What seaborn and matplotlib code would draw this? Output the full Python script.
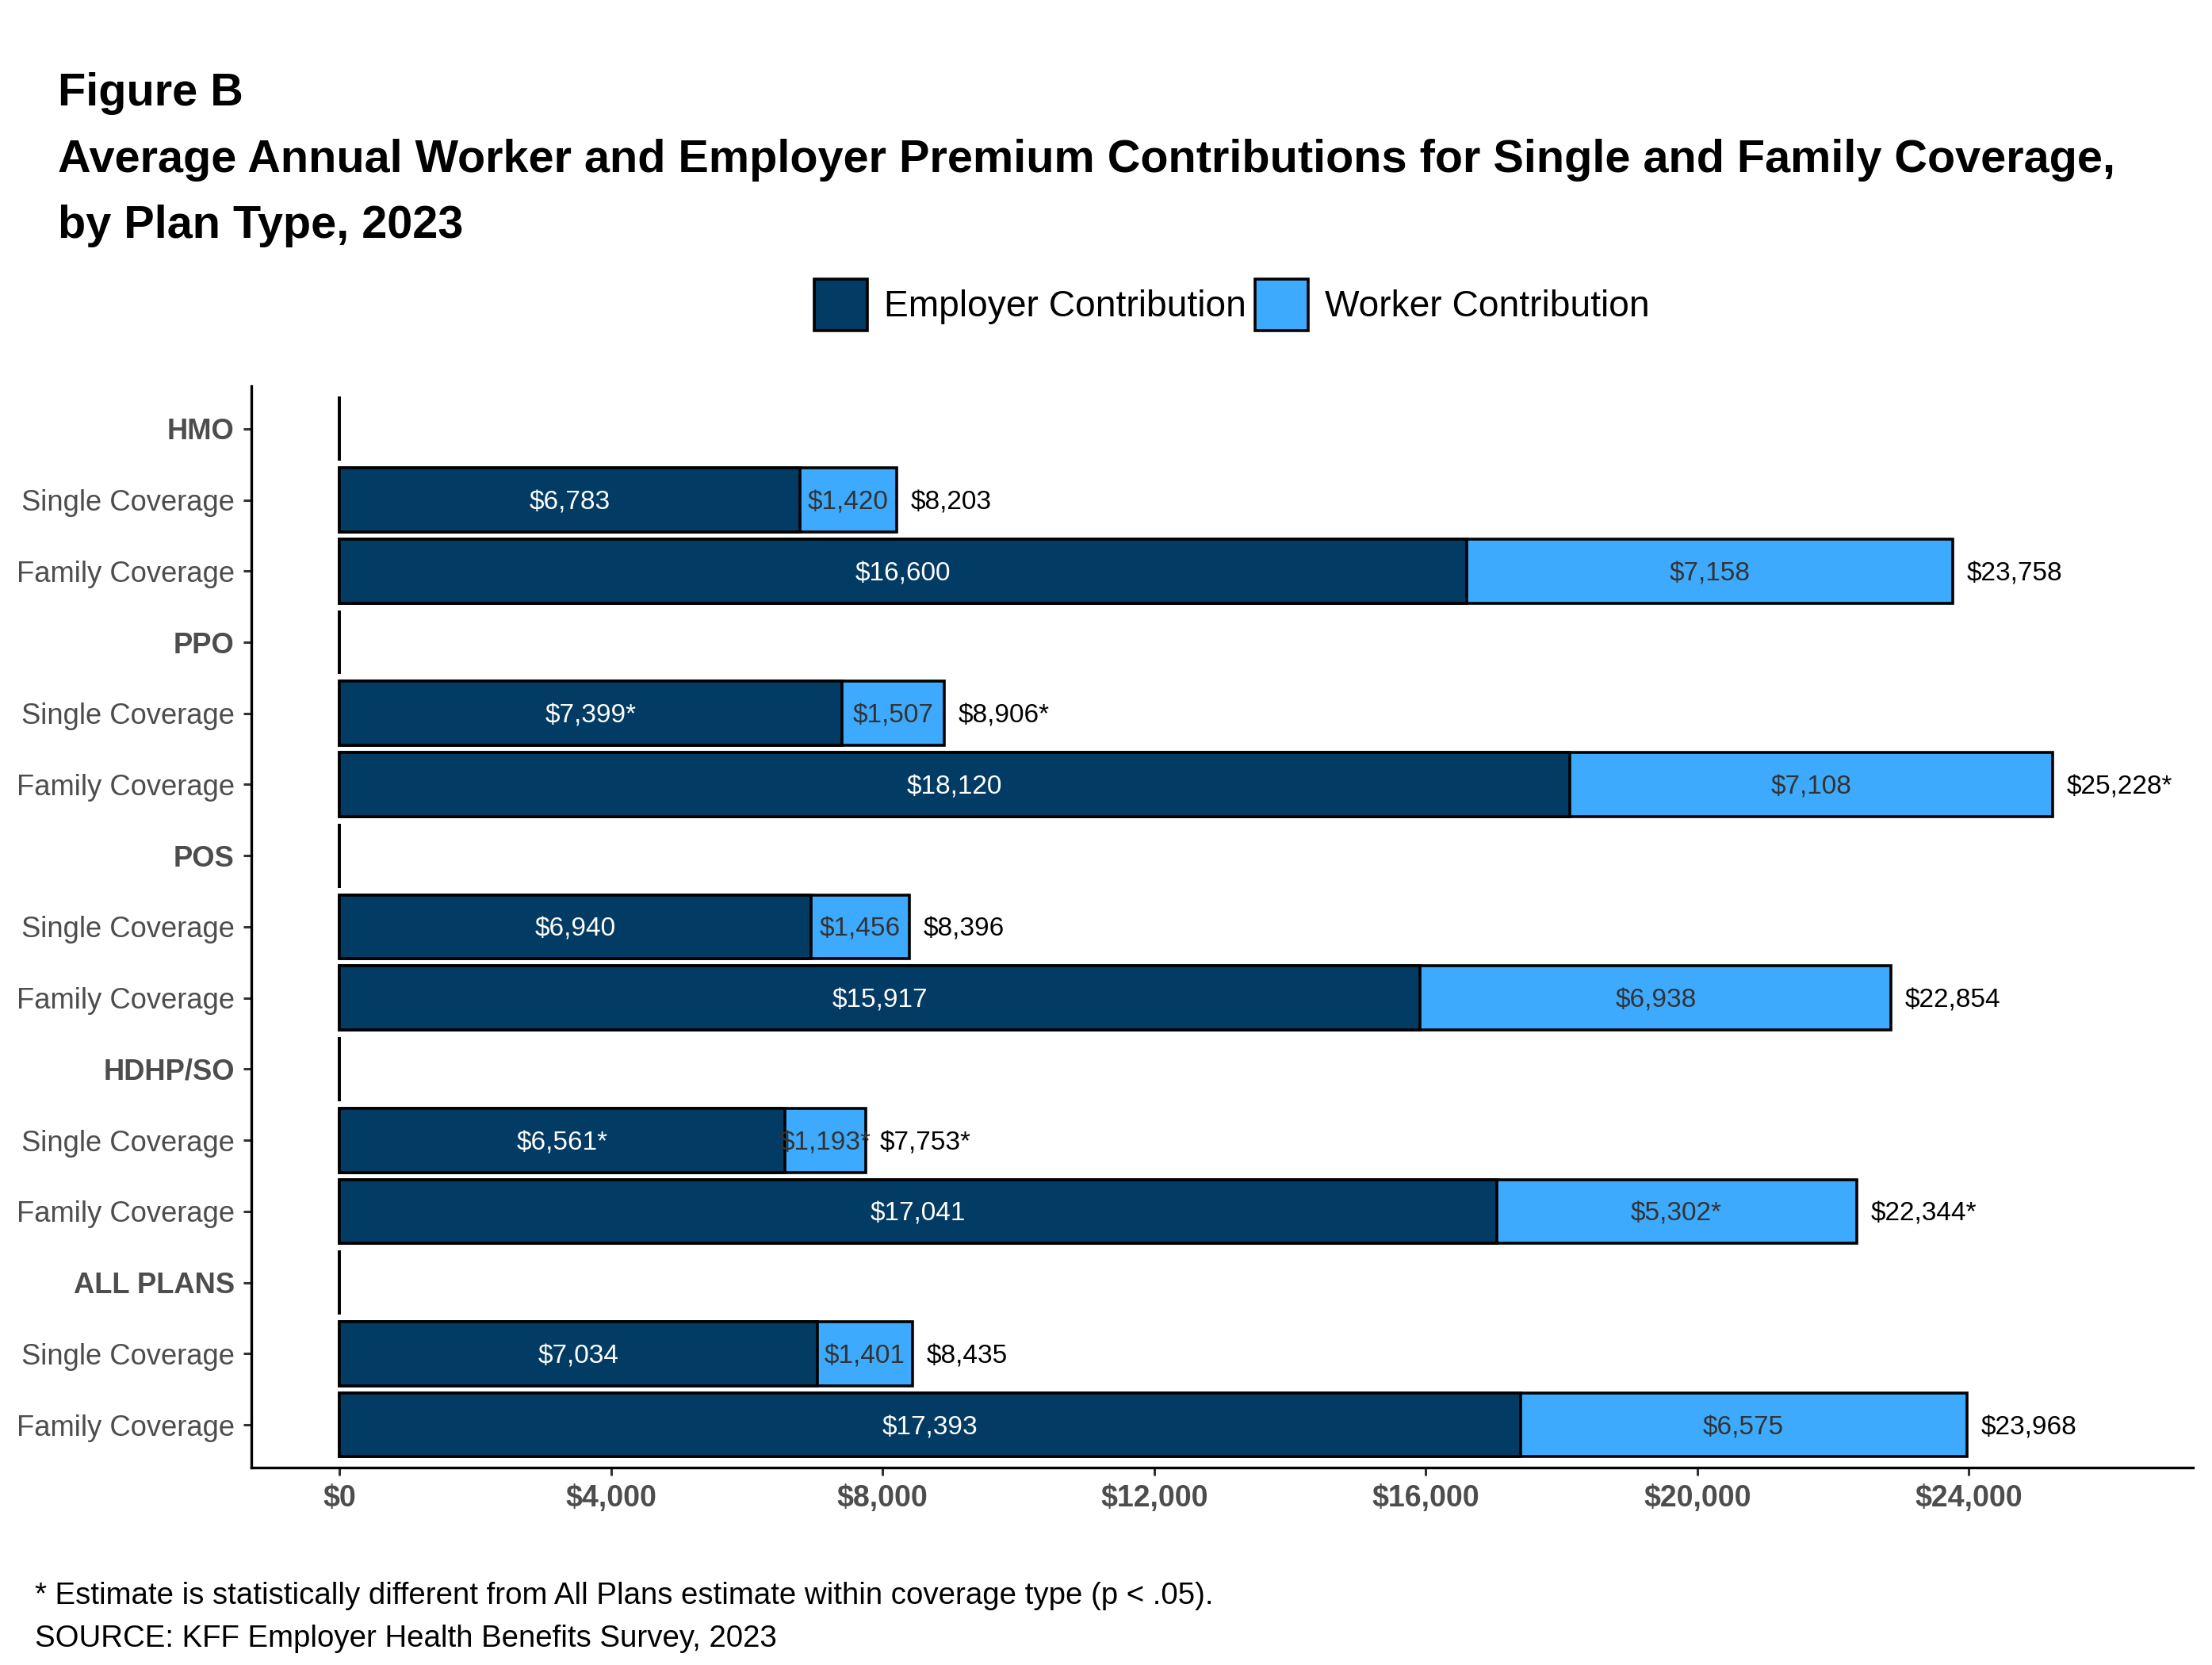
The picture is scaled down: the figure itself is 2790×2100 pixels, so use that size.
import pandas as pd
import numpy as np
import seaborn as sns
import matplotlib.pyplot as plt
from matplotlib.patches import Patch

plans = ["HMO", "PPO", "POS", "HDHP/SO", "ALL PLANS"]
employer_single = [6783, 7399, 6940, 6561, 7034]
worker_single = [1420, 1507, 1456, 1193, 1401]
total_single = [8203, 8906, 8396, 7753, 8435]
employer_family = [16600, 18120, 15917, 17041, 17393]
worker_family = [7158, 7108, 6938, 5302, 6575]
total_family = [23758, 25228, 22854, 22344, 23968]
# * = statistically different from All Plans
star_emp_single = [False, True, False, True, False]
star_wrk_single = [False, False, False, True, False]
star_tot_single = [False, True, False, True, False]
star_emp_family = [False, False, False, False, False]
star_wrk_family = [False, False, False, True, False]
star_tot_family = [False, True, False, True, False]
x_ticks = [0, 4000, 8000, 12000, 16000, 20000, 24000]

emp_color = "#023B63"
wrk_color = "#3DAAFD"


def money(v, star):
    return "${:,}".format(v) + ("*" if star else "")


rows = []
for i, p in enumerate(plans):
    rows.append(dict(row=p + "|h", label=p, head=True, employer=0, worker=0, total=0,
                     el="", wl="", tl=""))
    rows.append(dict(row=p + "|s", label="Single Coverage", head=False,
                     employer=employer_single[i], worker=worker_single[i], total=total_single[i],
                     el=money(employer_single[i], star_emp_single[i]),
                     wl=money(worker_single[i], star_wrk_single[i]),
                     tl=money(total_single[i], star_tot_single[i])))
    rows.append(dict(row=p + "|f", label="Family Coverage", head=False,
                     employer=employer_family[i], worker=worker_family[i], total=total_family[i],
                     el=money(employer_family[i], star_emp_family[i]),
                     wl=money(worker_family[i], star_wrk_family[i]),
                     tl=money(total_family[i], star_tot_family[i])))
df = pd.DataFrame(rows)
order = list(df["row"])

sns.set_style("white")
plt.rcParams["font.family"] = ["Liberation Sans", "DejaVu Sans"]
plt.rcParams["text.color"] = "black"

fig = plt.figure(figsize=(13.95, 10.5), dpi=200)
ax = fig.add_axes([0.1136, 0.1186, 0.8778, 0.6495])

# worker part = whole bar, employer drawn on top
sns.barplot(data=df, x="total", y="row", order=order, orient="h", color=wrk_color,
            saturation=1, errorbar=None, width=0.9, edgecolor="black", linewidth=1.3, ax=ax)
sns.barplot(data=df, x="employer", y="row", order=order, orient="h", color=emp_color,
            saturation=1, errorbar=None, width=0.9, edgecolor="black", linewidth=1.3, ax=ax)

for i, r in df.iterrows():
    if r["head"]:
        continue
    ax.text(r["employer"] / 2, i, r["el"], color="white", ha="center", va="center_baseline",
            fontsize=12)
    ax.text(r["employer"] + r["worker"] / 2, i, r["wl"], color="#333333", ha="center",
            va="center_baseline", fontsize=12)
    ax.annotate(r["tl"], (r["total"], i), xytext=(6.4, 0), textcoords="offset points",
                ha="left", va="center_baseline", fontsize=12, color="black")

ax.set_xlim(-1300, 27300)
ax.set_ylim(14.6, -0.6)
ax.set_xticks(x_ticks)
ax.set_xticklabels(["${:,}".format(t) for t in x_ticks], fontsize=13.5, fontweight="bold",
                   color="#4D4D4D")
ax.set_yticks(range(len(df)))
ax.set_yticklabels(df["label"], fontsize=13.1, color="#4D4D4D")
for lab, h in zip(ax.get_yticklabels(), df["head"]):
    if h:
        lab.set_fontweight("bold")
ax.set_xlabel("")
ax.set_ylabel("")
ax.tick_params(axis="both", length=3.6, width=1.1, color="#333333", pad=4, left=True, bottom=True)
sns.despine(ax=ax)
for s in ["left", "bottom"]:
    ax.spines[s].set_color("black")
    ax.spines[s].set_linewidth(1.2)

handles = [Patch(facecolor=emp_color, edgecolor="black", linewidth=1.3, label="Employer Contribution"),
           Patch(facecolor=wrk_color, edgecolor="black", linewidth=1.3, label="Worker Contribution")]
fig.legend(handles=handles, loc="center", bbox_to_anchor=(0.557, 0.817), ncol=2, frameon=False,
           fontsize=16.6, handlelength=1.45, handleheight=1.8, handletextpad=0.45,
           columnspacing=0.25)

fig.text(0.026, 1 - 133 / 2100, "Figure B", fontsize=20.75, fontweight="bold", va="baseline")
fig.text(0.026, 1 - 217 / 2100,
         "Average Annual Worker and Employer Premium Contributions for Single and Family Coverage,",
         fontsize=20.75, fontweight="bold", va="baseline")
fig.text(0.026, 1 - 300 / 2100, "by Plan Type, 2023", fontsize=20.75, fontweight="bold",
         va="baseline")

fig.text(0.0158, 1 - 2023 / 2100,
         "* Estimate is statistically different from All Plans estimate within coverage type (p < .05).",
         fontsize=13.8, va="baseline")
fig.text(0.0158, 1 - 2077 / 2100, "SOURCE: KFF Employer Health Benefits Survey, 2023",
         fontsize=13.8, va="baseline")

plt.savefig("out.png", dpi=200)
plt.close()
